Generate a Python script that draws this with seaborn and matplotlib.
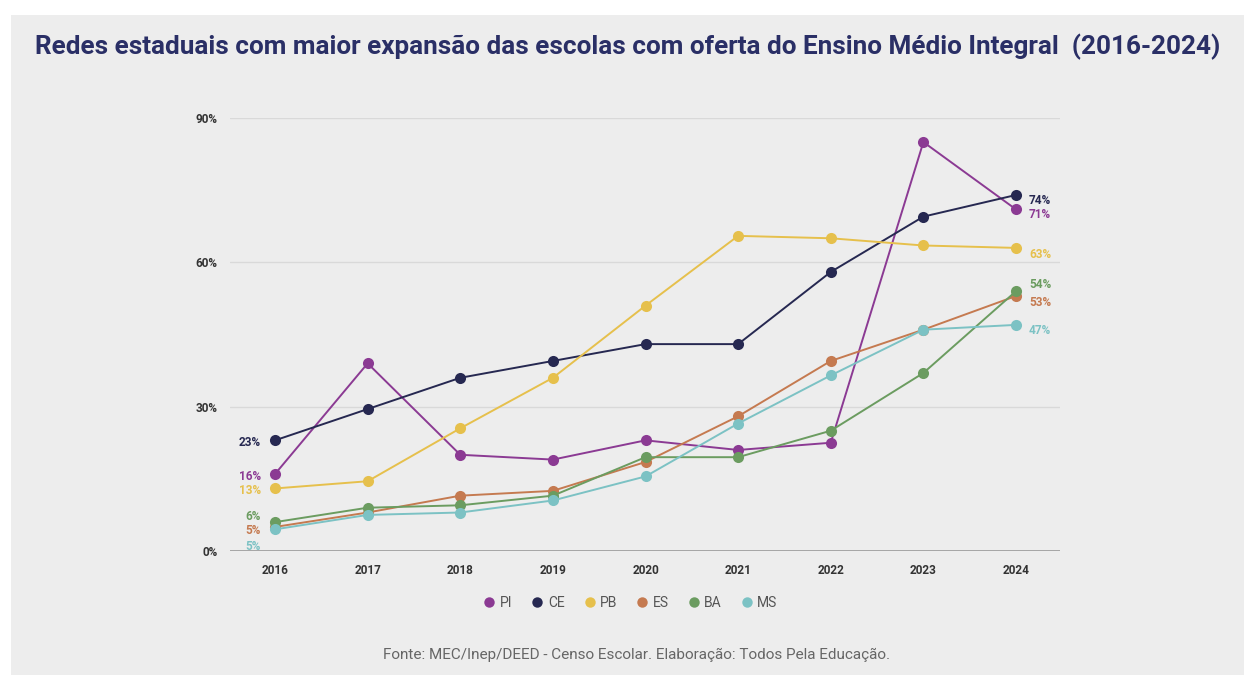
import numpy as np
import pandas as pd
import matplotlib
matplotlib.use("Agg")
import matplotlib.pyplot as plt
import seaborn as sns
from matplotlib.lines import Line2D

years = [2016, 2017, 2018, 2019, 2020, 2021, 2022, 2023, 2024]
states = ["PI", "CE", "PB", "ES", "BA", "MS"]
pi_vals = [16, 39, 20, 19, 23, 21, 22.5, 85, 71]
ce_vals = [23, 29.5, 36, 39.5, 43, 43, 58, 69.5, 74]
pb_vals = [13, 14.5, 25.5, 36, 51, 65.5, 65, 63.5, 63]
es_vals = [5, 8, 11.5, 12.5, 18.5, 28, 39.5, 46, 53]
ba_vals = [6, 9, 9.5, 11.5, 19.5, 19.5, 25, 37, 54]
ms_vals = [4.5, 7.5, 8, 10.5, 15.5, 26.5, 36.5, 46, 47]
left_labels = ["16%", "23%", "13%", "5%", "6%", "5%"]
right_labels = ["71%", "74%", "63%", "53%", "54%", "47%"]
y_ticks = [0, 30, 60, 90]
y_tick_labels = ["0%", "30%", "60%", "90%"]
title = "Redes estaduais com maior expansão das escolas com oferta do Ensino Médio Integral  (2016-2024)"
source = "Fonte: MEC/Inep/DEED - Censo Escolar. Elaboração: Todos Pela Educação."

colors = ["#8b3a93", "#262851", "#e6c04c", "#c57a50", "#6b9c60", "#7cc2c4"]
palette = dict(zip(states, colors))

series = [pi_vals, ce_vals, pb_vals, es_vals, ba_vals, ms_vals]
df = pd.DataFrame({
    "year": np.tile(years, len(states)),
    "value": np.concatenate(series),
    "state": np.repeat(states, len(years)),
})

sns.set_theme(style="white")
plt.rcParams["font.family"] = ["Roboto", "DejaVu Sans"]

W, H = 1244, 675
fig = plt.figure(figsize=(W / 100, H / 100), dpi=100)
bg = "#ededed"
fig.patch.set_facecolor("white")
fig.patches.append(plt.Rectangle((11 / W, 0), 1 - 11 / W, 1 - 15 / H,
                                  transform=fig.transFigure, facecolor=bg,
                                  edgecolor="none", zorder=-10))

ax = fig.add_axes([230 / W, (H - 551) / H, 830 / W, (551 - 118) / H])
ax.patch.set_alpha(0)

sns.lineplot(data=df, x="year", y="value", hue="state", palette=palette,
             marker="o", markersize=8, markeredgewidth=0, linewidth=1.4,
             ax=ax, legend=False, zorder=3)

ax.set_xlim(2015.514, 2024.475)
ax.set_ylim(0, 90)
ax.set_xticks(years)
ax.set_xticklabels([str(y) for y in years], fontsize=8.5, fontweight="bold", color="#333333")
ax.set_yticks(y_ticks)
ax.set_yticklabels(y_tick_labels, fontsize=8.5, fontweight="bold", color="#333333")
ax.tick_params(axis="both", length=0, pad=9)
ax.set_xlabel("")
ax.set_ylabel("")
for s in ax.spines.values():
    s.set_visible(False)
for yv in y_ticks[1:]:
    ax.axhline(yv, color="#d9d9d9", linewidth=1, zorder=1)
ax.axhline(0, color="#9a9a9a", linewidth=1.2, zorder=1)

# end labels (offset vertically to avoid overlap)
left_y_px = [476, 443, 491, 531, 517, 546]
right_y_px = [215, 200, 255, 303, 285, 330]
for i, st in enumerate(states):
    ly = (551 - left_y_px[i]) / 433 * 90
    ry = (551 - right_y_px[i]) / 433 * 90
    ax.text(2016 - 0.15, ly, left_labels[i], ha="right", va="center",
            fontsize=8.5, fontweight="bold", color=colors[i])
    ax.text(2024 + 0.14, ry, right_labels[i], ha="left", va="center",
            fontsize=8.5, fontweight="bold", color=colors[i])

handles = [Line2D([0], [0], marker="o", color="none", markerfacecolor=c,
                  markeredgewidth=0, markersize=7.5) for c in colors]
fig.legend(handles, states, loc="center", bbox_to_anchor=(630 / W, 1 - 603 / H),
           ncol=6, frameon=False, fontsize=10, handletextpad=0.25,
           columnspacing=1.3, handlelength=1.0, labelcolor="#555555")

fig.text(35 / W, 1 - 47 / H, title, ha="left", va="center", fontsize=18.8,
         fontweight="bold", color="#2a2f66")
fig.text(637 / W, 1 - 655 / H, source, ha="center", va="center",
         fontsize=11, color="#666666")

fig.savefig("out.png", dpi=100, facecolor=fig.get_facecolor())
